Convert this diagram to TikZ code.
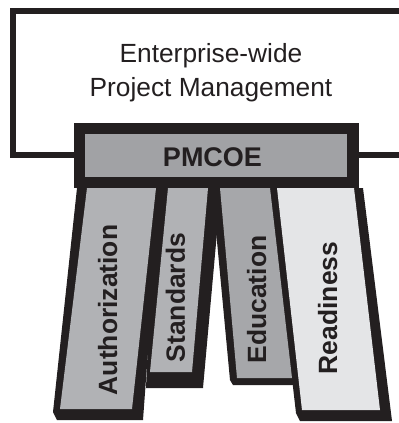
\documentclass[tikz,border=0pt]{standalone}
\usepackage{fontspec}
\setmainfont{Liberation Sans}
\usetikzlibrary{positioning}
\definecolor{ink}{RGB}{35,31,32}
\definecolor{pmgray}{RGB}{161,162,165}
\definecolor{midgray}{RGB}{177,178,181}
\definecolor{edugray}{RGB}{166,167,170}
\definecolor{palegray}{RGB}{228,229,231}
\tikzset{
	frame/.style={draw=ink, line width=4.6pt},
	shadow/.style={fill=ink},
	pmbox/.style={draw=ink, fill=pmgray, line width=8.2pt},
	title/.style={align=center, inner sep=0pt, text=ink, font=\fontsize{18.7}{24.2}\selectfont},
	pmlabel/.style={anchor=base, inner sep=0pt, text=ink, font=\fontsize{19.2}{23}\selectfont\bfseries},
	pillar/.style={rotate=90, anchor=base, inner sep=0pt, text=ink, font=\fontsize{18.8}{23}\selectfont\bfseries}
}

\begin{document}
\begin{tikzpicture}[x=0.025cm, y=-0.025cm]
	\useasboundingbox (0,0) rectangle (399,423);
	
	% frame of the enterprise
	\draw[frame] (80,155) -- (13,155) -- (13,11) -- (399,11);
	\draw[frame] (352,155) -- (399,155);
	\node[title] (epm) at (211,73) {Enterprise-wide\\Project Management};
	
	% shadows of the pillars
	\fill[shadow] (77,188) -- (160,188) -- (143,420) -- (57,420) -- (53,412) -- cycle;
	\fill[shadow] (155,188) -- (221,188) -- (203,388) -- (146,388) -- cycle;
	\fill[shadow] (212,188) -- (280,188) -- (300,385) -- (233,385) -- (230,380) -- cycle;
	\fill[shadow] (270,188) -- (363,188) -- (392,421) -- (300,421) -- (296,413) -- cycle;
	
	% pillars
	\fill[midgray] (87,188) -- (156,188) -- (132,409) -- (60,409) -- cycle;
	\fill[midgray] (168,188) -- (208,188) -- (192,372) -- (150,372) -- cycle;
	\fill[edugray] (220,188) -- (270,188) -- (292,378) -- (237,378) -- cycle;
	\fill[palegray] (277,188) -- (354,188) -- (380,410) -- (302,410) -- cycle;
	
	\draw[pmbox] (79.5,128.5) rectangle (352.75,182.5);
	\node[pmlabel] (pmcoe) at (212.5,166) {PMCOE};
	
	\node[pillar] (auth) at (117,310) {Authorization};
	\node[pillar] (stand) at (185,297.5) {Standards};
	\node[pillar] (edu) at (266,299.5) {Education};
	\node[pillar] (ready) at (337,308) {Readiness};
	
\end{tikzpicture}
\end{document}
